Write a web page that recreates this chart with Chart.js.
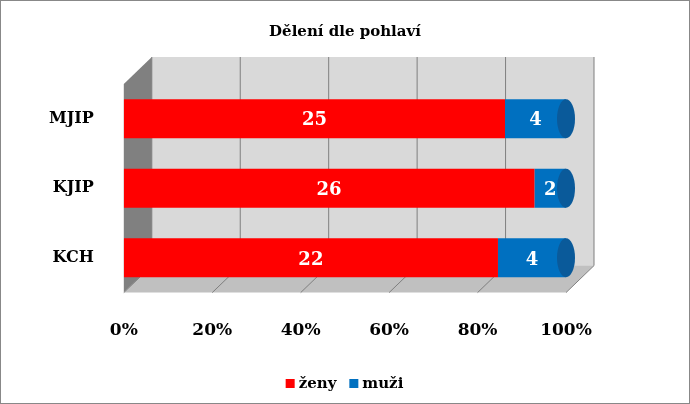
<!DOCTYPE html>
<html><head><meta charset="utf-8">
<script src="https://cdn.jsdelivr.net/npm/chart.js@4/dist/chart.umd.min.js"></script>
<style>
body{margin:0;background:#fff}
#wrap{position:absolute;left:0;top:0;width:688px;height:402px;border:1px solid #888}
</style></head><body>
<div id="wrap"><canvas id="c" width="688" height="402"></canvas></div>
<script>
const categories = ['MJIP', 'KJIP', 'KCH'];
const zeny = [25, 26, 22];
const muzi = [4, 2, 4];
const ticks = [0, 20, 40, 60, 80, 100];
const seriesNames = ['ženy', 'muži'];
const seriesColors = ['#ff0000', '#0070c0'];

const pct = (a, i) => a[i] / (zeny[i] + muzi[i]) * 100;
const DX = 28, DY = 27;
const FONT = '"DejaVu Serif"';

const wallPlugin = {
  id: 'wall',
  beforeDatasetsDraw(chart) {
    const ctx = chart.ctx, a = chart.chartArea, xs = chart.scales.x;
    const L = a.left, R = a.right, T = a.top, B = a.bottom;
    ctx.save();
    ctx.fillStyle = '#d9d9d9';
    ctx.fillRect(L + DX, T - DY, R - L, B - T);
    ctx.fillStyle = '#808080';
    ctx.beginPath();
    ctx.moveTo(L, T); ctx.lineTo(L + DX, T - DY); ctx.lineTo(L + DX, B - DY); ctx.lineTo(L, B);
    ctx.closePath(); ctx.fill();
    ctx.fillStyle = '#c0c0c0';
    ctx.beginPath();
    ctx.moveTo(L, B); ctx.lineTo(L + DX, B - DY); ctx.lineTo(R + DX, B - DY); ctx.lineTo(R, B);
    ctx.closePath(); ctx.fill();
    ctx.strokeStyle = '#7f7f7f'; ctx.lineWidth = 1;
    ticks.forEach(t => {
      const x = xs.getPixelForValue(t);
      ctx.beginPath();
      ctx.moveTo(x + DX, T - DY); ctx.lineTo(x + DX, B - DY); ctx.lineTo(x, B);
      ctx.stroke();
    });
    ctx.restore();
  },
  afterDatasetsDraw(chart) {
    const ctx = chart.ctx;
    ctx.save();
    // cylinder end caps
    chart.getDatasetMeta(1).data.forEach(bar => {
      ctx.fillStyle = '#0a5a9a';
      ctx.beginPath();
      ctx.ellipse(bar.x, bar.y, 9, bar.height / 2, 0, 0, Math.PI * 2);
      ctx.fill();
    });
    ctx.font = 'bold 18px ' + FONT;
    ctx.textAlign = 'center'; ctx.textBaseline = 'middle';
    ctx.fillStyle = '#fff';
    const src = [zeny, muzi];
    chart.data.datasets.forEach((ds, di) => {
      chart.getDatasetMeta(di).data.forEach((bar, i) => {
        ctx.fillText(String(src[di][i]), (bar.x + bar.base) / 2, bar.y + 2);
      });
    });
    // title and legend centred on the whole canvas
    const W = chart.width;
    ctx.fillStyle = '#000';
    ctx.font = 'bold 15px ' + FONT;
    ctx.fillText('Dělení dle pohlaví', W / 2, 31);
    ctx.font = 'bold 15px ' + FONT;
    const w0 = ctx.measureText(seriesNames[0]).width, w1 = ctx.measureText(seriesNames[1]).width;
    const total = 14 + w0 + 12 + 14 + w1;
    let x = W / 2 - total / 2;
    ctx.textAlign = 'left';
    seriesNames.forEach((n, k) => {
      ctx.fillStyle = seriesColors[k];
      ctx.fillRect(x, 378, 9, 9);
      ctx.fillStyle = '#000';
      ctx.fillText(n, x + 13, 383);
      x += 14 + (k ? w1 : w0) + 12;
    });
    ctx.restore();
  }
};

new Chart(document.getElementById('c'), {
  type: 'bar',
  data: {
    labels: categories,
    datasets: [
      { label: seriesNames[0], data: zeny.map((v, i) => pct(zeny, i)), backgroundColor: seriesColors[0], borderWidth: 0 },
      { label: seriesNames[1], data: muzi.map((v, i) => pct(muzi, i)), backgroundColor: seriesColors[1], borderWidth: 0 }
    ]
  },
  options: {
    indexAxis: 'y',
    responsive: false,
    animation: false,
    layout: { padding: { left: 26, right: 123, top: 83, bottom: 42 } },
    datasets: { bar: { barPercentage: 0.56, categoryPercentage: 1 } },
    scales: {
      x: {
        stacked: true, min: 0, max: 100,
        afterBuildTicks: s => { s.ticks = ticks.map(v => ({ value: v })); },
        grid: { display: false }, border: { display: false },
        ticks: { callback: v => v + '%', color: '#000', padding: 20,
                 font: { family: 'DejaVu Serif', weight: 'bold', size: 17 } }
      },
      y: {
        stacked: true,
        grid: { display: false }, border: { display: false },
        ticks: { color: '#000', padding: 22,
                 font: { family: 'DejaVu Serif', weight: 'bold', size: 16 } }
      }
    },
    plugins: {
      title: { display: false },
      legend: { display: false },
      tooltip: { enabled: false }
    }
  },
  plugins: [wallPlugin]
});
</script>
</body></html>
